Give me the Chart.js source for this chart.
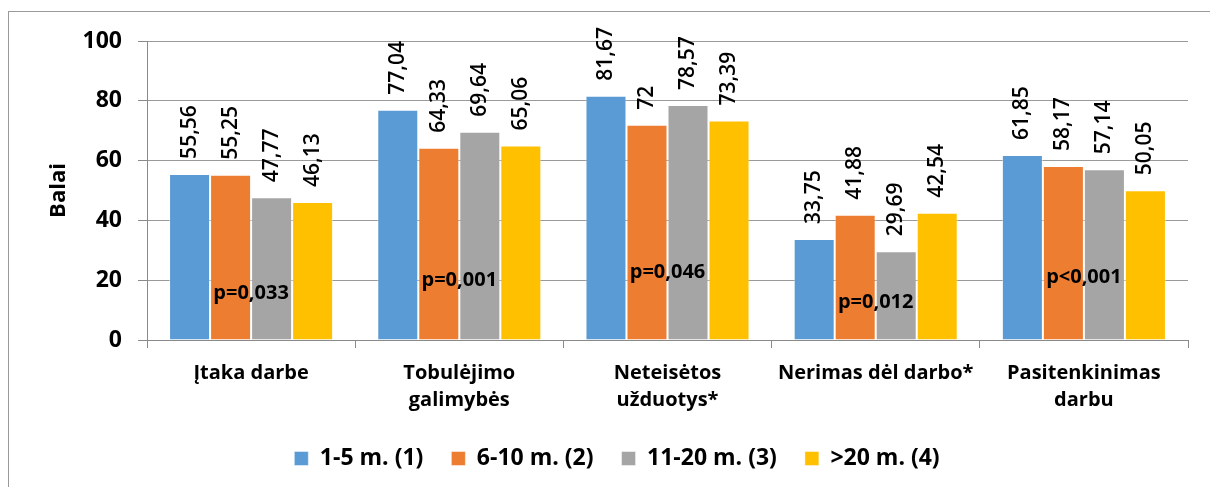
<!DOCTYPE html>
<html>
<head>
<meta charset="utf-8">
<script src="https://cdn.jsdelivr.net/npm/chart.js@4/dist/chart.umd.min.js"></script>
<style>
  html, body { margin: 0; padding: 0; background: #ffffff; }
  #wrap { position: relative; width: 1210px; height: 487px; }
</style>
</head>
<body>
<div id="wrap"><canvas id="chart" width="1210" height="487"></canvas></div>
<script>
// Categories (multi-line labels)
const categories = [
  ['Įtaka darbe'],
  ['Tobulėjimo', 'galimybės'],
  ['Neteisėtos', 'užduotys*'],
  ['Nerimas dėl darbo*'],
  ['Pasitenkinimas', 'darbu']
];

// Work experience groups
const seriesNames = ['1-5 m. (1)', '6-10 m. (2)', '11-20 m. (3)', '>20 m. (4)'];
const seriesColors = ['#5B9BD5', '#ED7D31', '#A5A5A5', '#FFC000'];

// Scores per group
const group1 = [55.56, 77.04, 81.67, 33.75, 61.85];
const group2 = [55.25, 64.33, 72.00, 41.88, 58.17];
const group3 = [47.77, 69.64, 78.57, 29.69, 57.14];
const group4 = [46.13, 65.06, 73.39, 42.54, 50.05];

// Value labels as printed above the bars
const labels1 = ['55,56', '77,04', '81,67', '33,75', '61,85'];
const labels2 = ['55,25', '64,33', '72', '41,88', '58,17'];
const labels3 = ['47,77', '69,64', '78,57', '29,69', '57,14'];
const labels4 = ['46,13', '65,06', '73,39', '42,54', '50,05'];

// Significance notes and the score level they sit at
const pValues = ['p=0,033', 'p=0,001', 'p=0,046', 'p=0,012', 'p<0,001'];
const pLevels = [15.5, 20, 22.5, 12.5, 21];

// Axis ticks
const yTicks = [0, 20, 40, 60, 80, 100];

const FONT = '"Open Sans", "Noto Sans", "DejaVu Sans", sans-serif';

const seriesValues = [group1, group2, group3, group4];
const seriesLabels = [labels1, labels2, labels3, labels4];

// Outer frame
const framePlugin = {
  id: 'frame',
  beforeDraw(chart) {
    const ctx = chart.ctx;
    ctx.save();
    ctx.strokeStyle = '#9a9a9a';
    ctx.lineWidth = 1;
    ctx.strokeRect(8.5, 11.5, 1400, 600);
    ctx.restore();
  }
};

// Rotated value labels above each bar
const valueLabelPlugin = {
  id: 'valueLabels',
  afterDatasetsDraw(chart) {
    const ctx = chart.ctx;
    ctx.save();
    ctx.fillStyle = '#000';
    ctx.font = '600 21px ' + FONT;
    ctx.textAlign = 'left';
    ctx.textBaseline = 'middle';
    chart.data.datasets.forEach((ds, di) => {
      const meta = chart.getDatasetMeta(di);
      meta.data.forEach((bar, i) => {
        ctx.save();
        ctx.translate(bar.x, bar.y - 15);
        ctx.rotate(-Math.PI / 2);
        ctx.fillText(seriesLabels[di][i], 0, 0);
        ctx.restore();
      });
    });
    ctx.restore();
  }
};

// p-value notes over each category
const pValuePlugin = {
  id: 'pValues',
  afterDatasetsDraw(chart) {
    const ctx = chart.ctx;
    const xs = chart.scales.x, ys = chart.scales.y;
    ctx.save();
    ctx.fillStyle = '#000';
    ctx.font = 'bold 20px ' + FONT;
    ctx.textAlign = 'center';
    ctx.textBaseline = 'middle';
    pValues.forEach((txt, i) => {
      ctx.fillText(txt, xs.getPixelForValue(i), ys.getPixelForValue(pLevels[i]));
    });
    ctx.restore();
  }
};

new Chart(document.getElementById('chart'), {
  type: 'bar',
  data: {
    labels: categories,
    datasets: seriesNames.map((name, i) => ({
      label: name,
      data: seriesValues[i],
      backgroundColor: seriesColors[i],
      borderColor: 'rgba(255,255,255,0.45)',
      borderWidth: 1,
      categoryPercentage: 0.788,
      barPercentage: 1.0
    }))
  },
  options: {
    responsive: false,
    animation: false,
    layout: { padding: { top: 41, right: 22, bottom: 7, left: 46 } },
    plugins: {
      legend: {
        position: 'bottom',
        labels: {
          color: '#000',
          font: { family: FONT, size: 23, weight: 'bold' },
          boxWidth: 14,
          boxHeight: 14,
          padding: 28
        }
      },
      tooltip: { enabled: false }
    },
    scales: {
      x: {
        grid: {
          offset: true,
          drawOnChartArea: false,
          tickLength: 8,
          color: '#8a8a8a'
        },
        border: { color: '#8a8a8a', width: 1 },
        ticks: {
          color: '#000',
          font: { family: FONT, size: 20, weight: 'bold', lineHeight: 1.35 },
          padding: 12,
          maxRotation: 0,
          autoSkip: false
        },
        afterFit(scale) { scale.height = 79; }
      },
      y: {
        min: 0,
        max: 100,
        afterBuildTicks(scale) { scale.ticks = yTicks.map(v => ({ value: v })); },
        grid: {
          color: '#9a9a9a',
          borderDash: [3, 2],
          tickBorderDash: [],
          tickColor: '#8a8a8a',
          tickLength: 9
        },
        border: { color: '#8a8a8a', width: 1 },
        ticks: {
          color: '#000',
          font: { family: FONT, size: 23, weight: 'bold' },
          padding: 16
        },
        title: {
          display: true,
          text: 'Balai',
          color: '#000',
          font: { family: FONT, size: 22, weight: 'bold' },
          padding: { top: 0, bottom: 0 }
        },
        afterFit(scale) { scale.width = 101; }
      }
    }
  },
  plugins: [framePlugin, valueLabelPlugin, pValuePlugin]
});
</script>
</body>
</html>
